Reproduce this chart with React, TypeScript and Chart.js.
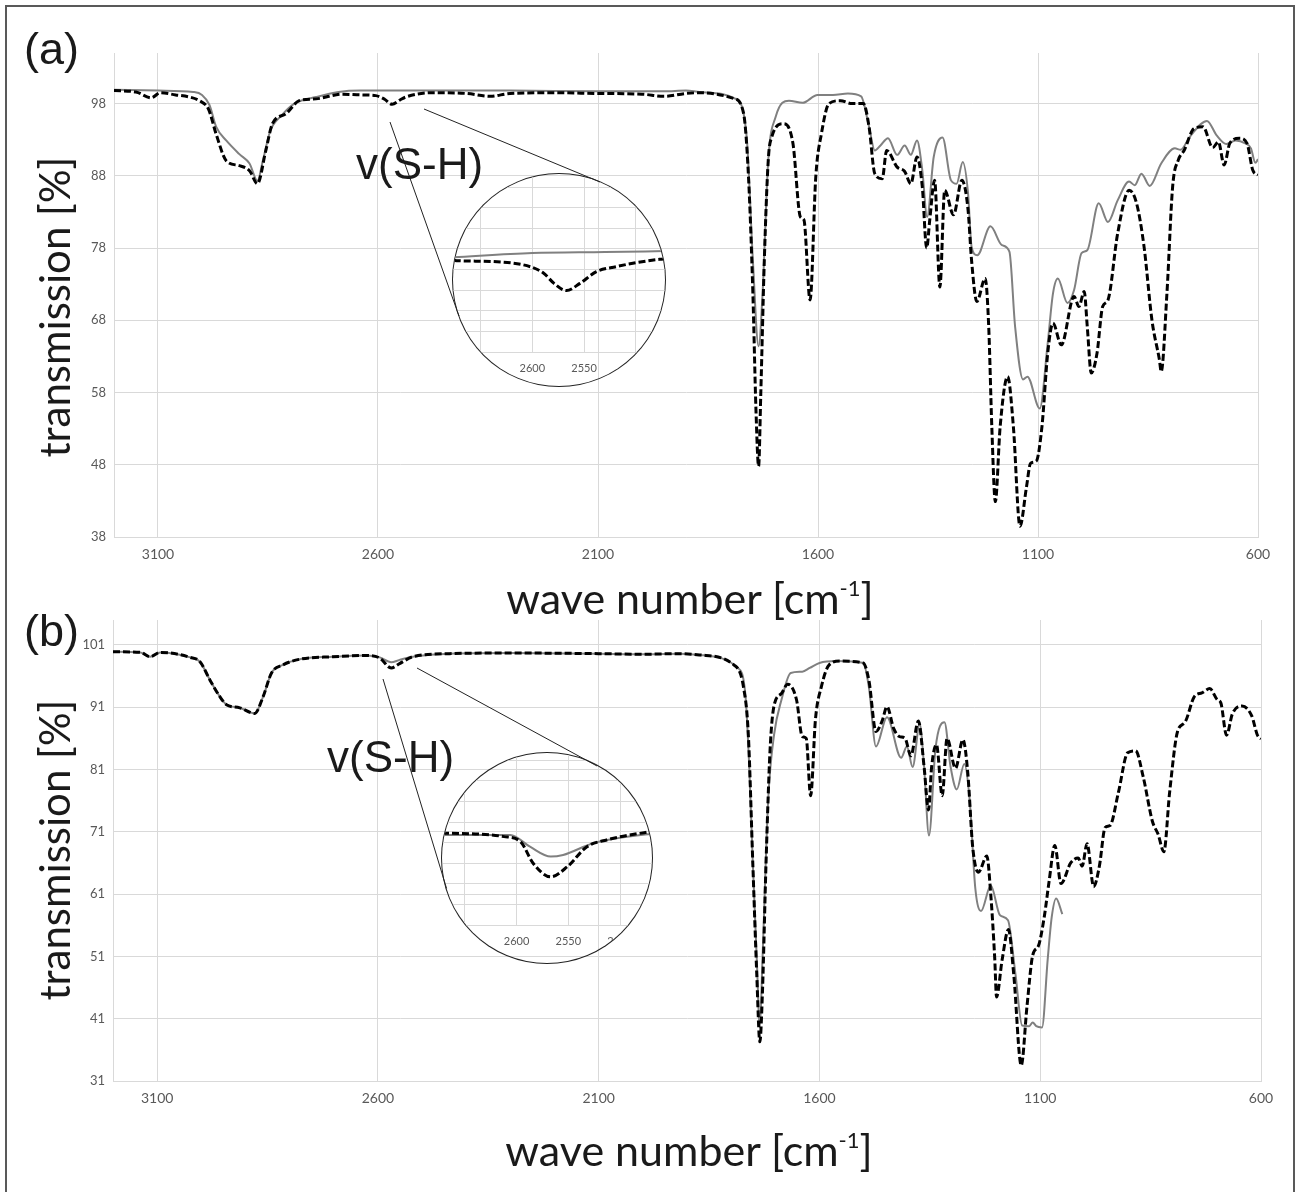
import React, { useEffect, useRef } from "react";
import { Chart, registerables } from "chart.js";

Chart.register(...registerables);

// ---------- Chart (a) ----------
const A_BLACK_WN = [3200, 3150, 3115, 3095, 3060, 3028, 3006, 2985, 2968, 2945, 2915, 2892, 2874, 2855, 2840, 2809, 2779, 2741, 2681, 2640, 2605, 2585, 2568, 2550, 2537, 2478, 2400, 2345, 2300, 2200, 2100, 2000, 1950, 1900, 1869, 1791, 1769, 1758, 1748, 1741, 1735, 1730, 1722, 1713, 1705, 1679, 1657, 1640, 1632, 1618, 1605, 1592, 1575, 1549, 1523, 1497, 1484, 1471, 1454, 1444, 1420, 1403, 1389, 1375, 1363, 1353, 1346, 1335, 1323, 1312, 1292, 1273, 1259, 1251, 1239, 1220, 1212, 1205, 1197, 1186, 1169, 1156, 1141, 1126, 1117, 1104, 1091, 1078, 1066, 1047, 1018, 1007, 995, 988, 979, 966, 953, 941, 919, 893, 876, 859, 841, 824, 820, 807, 794, 781, 768, 746, 725, 703, 690, 677, 664, 642, 625, 612, 600];
const A_BLACK_T = [99.8, 99.6, 98.8, 99.5, 99.2, 98.9, 98.4, 97.2, 93.8, 90.1, 89.4, 88.7, 86.9, 91.5, 95.2, 96.6, 98.4, 98.65, 99.3, 99.2, 99.1, 98.6, 97.9, 98.5, 98.9, 99.5, 99.4, 99.0, 99.4, 99.5, 99.4, 99.3, 99.0, 99.4, 99.5, 98.7, 96.6, 87.9, 71.7, 55.6, 47.8, 57.9, 76.3, 90.2, 93.4, 95.2, 92.5, 82.3, 81.9, 70.8, 87.9, 93.9, 98.0, 98.4, 98.0, 98.0, 94.8, 88.3, 87.6, 91.5, 89.2, 88.6, 86.9, 90.6, 86.5, 78.0, 81.9, 87.4, 72.6, 86.0, 82.6, 87.4, 83.3, 76.3, 70.6, 73.8, 67.1, 53.3, 42.9, 53.3, 60.2, 53.3, 39.5, 45.0, 48.2, 48.5, 53.3, 63.4, 67.6, 64.6, 71.3, 69.9, 72.0, 67.1, 60.7, 63.4, 69.9, 70.8, 80.0, 86.0, 84.2, 78.2, 68.0, 62.5, 60.9, 71.7, 86.5, 90.2, 91.5, 94.5, 94.8, 91.9, 92.7, 89.5, 92.5, 93.2, 92.5, 88.8, 88.1];

const A_GRAY_WN = [3200, 3100, 3020, 3000, 2983, 2968, 2945, 2915, 2892, 2874, 2862, 2845, 2820, 2790, 2741, 2690, 2640, 2500, 2300, 2100, 1950, 1900, 1869, 1782, 1769, 1761, 1748, 1735, 1726, 1713, 1696, 1666, 1635, 1601, 1566, 1532, 1502, 1484, 1471, 1458, 1441, 1420, 1403, 1389, 1375, 1363, 1352, 1337, 1317, 1298, 1285, 1271, 1259, 1251, 1238, 1208, 1182, 1165, 1152, 1134, 1124, 1096, 1078, 1066, 1055, 1033, 1018, 1001, 988, 962, 941, 919, 893, 880, 865, 846, 820, 789, 776, 755, 716, 694, 672, 651, 629, 616, 606, 600];
const A_GRAY_T = [99.9, 99.8, 99.6, 99.2, 97.8, 94.8, 92.9, 91.0, 89.7, 87.3, 90.0, 94.2, 96.3, 98.0, 98.9, 99.6, 99.8, 99.8, 99.8, 99.7, 99.7, 99.8, 99.6, 98.5, 96.6, 92.5, 76.3, 64.4, 71.7, 90.2, 96.2, 98.4, 98.1, 99.2, 99.2, 99.4, 99.0, 94.8, 91.5, 92.2, 93.2, 90.9, 92.2, 90.9, 92.9, 88.8, 82.3, 90.6, 93.3, 87.4, 86.9, 89.9, 85.6, 78.2, 77.0, 81.0, 78.4, 77.5, 67.1, 59.8, 60.2, 55.8, 64.8, 71.7, 73.8, 70.4, 72.2, 77.3, 77.7, 84.2, 81.6, 84.6, 87.2, 86.7, 88.3, 86.6, 89.7, 91.8, 91.6, 93.4, 95.6, 93.6, 92.4, 92.9, 92.5, 91.8, 89.8, 90.3];

const A_Y_TICKS = [38, 48, 58, 68, 78, 88, 98];

// inset (a)
const IA_BLACK_WN = [2676, 2672, 2634, 2602, 2589, 2579, 2567, 2554, 2538, 2519, 2499, 2477, 2471];
const IA_BLACK_T = [100.45, 100.43, 100.38, 100.14, 99.82, 99.33, 98.98, 99.33, 99.9, 100.14, 100.34, 100.5, 100.52];
const IA_GRAY_WN = [2676, 2600, 2530, 2471];
const IA_GRAY_T = [100.6, 100.8, 100.85, 100.9];

// ---------- Chart (b) ----------
const B_BLACK_WN = [3200, 3138, 3116, 3093, 3025, 3003, 2980, 2958, 2943, 2913, 2879, 2860, 2841, 2815, 2777, 2702, 2627, 2596, 2570, 2551, 2521, 2438, 2300, 2100, 2000, 1920, 1872, 1794, 1772, 1761, 1751, 1742, 1735, 1729, 1721, 1712, 1703, 1686, 1672, 1652, 1639, 1630, 1620, 1609, 1596, 1578, 1553, 1501, 1488, 1472, 1458, 1447, 1432, 1419, 1406, 1393, 1376, 1363, 1353, 1346, 1335, 1322, 1311, 1292, 1275, 1264, 1253, 1240, 1221, 1212, 1203, 1199, 1186, 1172, 1160, 1143, 1130, 1117, 1104, 1091, 1080, 1067, 1053, 1031, 1014, 1005, 994, 979, 966, 953, 942, 923, 902, 884, 867, 846, 833, 820, 807, 789, 772, 751, 734, 716, 699, 691, 678, 665, 643, 621, 608, 600];
const B_BLACK_T = [99.9, 99.8, 99.1, 99.8, 99.0, 98.3, 95.3, 92.7, 91.4, 90.9, 90.0, 92.7, 96.5, 97.8, 98.7, 99.1, 99.3, 98.9, 97.3, 98.0, 99.1, 99.6, 99.7, 99.6, 99.5, 99.6, 99.4, 97.8, 94.2, 86.5, 66.0, 48.1, 37.3, 45.5, 66.0, 84.0, 91.2, 93.2, 94.7, 92.2, 86.3, 86.0, 76.8, 89.1, 94.2, 97.8, 98.4, 98.1, 95.3, 87.1, 88.8, 91.1, 87.6, 86.3, 86.0, 83.2, 88.8, 81.4, 74.5, 81.4, 85.0, 76.8, 86.0, 81.2, 85.8, 80.4, 68.6, 64.5, 67.1, 60.9, 50.6, 44.5, 50.6, 55.3, 48.1, 33.5, 43.0, 51.2, 52.7, 57.3, 63.0, 68.8, 62.7, 66.0, 66.8, 65.5, 69.1, 62.2, 65.5, 71.7, 72.0, 77.3, 83.7, 84.0, 79.9, 72.7, 70.6, 67.8, 77.3, 87.1, 88.6, 92.7, 93.3, 94.0, 92.2, 91.7, 86.5, 89.9, 91.2, 89.6, 86.5, 85.9];

const B_GRAY_WN = [3200, 3138, 3116, 3093, 3025, 3003, 2980, 2958, 2943, 2913, 2879, 2860, 2841, 2815, 2777, 2702, 2627, 2596, 2570, 2551, 2521, 2438, 2300, 2100, 2000, 1920, 1872, 1785, 1768, 1759, 1751, 1742, 1735, 1729, 1716, 1703, 1686, 1665, 1639, 1622, 1600, 1561, 1501, 1488, 1472, 1447, 1415, 1402, 1389, 1373, 1363, 1352, 1337, 1317, 1303, 1289, 1272, 1260, 1247, 1234, 1212, 1191, 1173, 1156, 1141, 1125, 1117, 1109, 1096, 1083, 1074, 1064, 1050];
const B_GRAY_T = [99.9, 99.8, 99.1, 99.8, 99.0, 98.3, 95.3, 92.7, 91.4, 90.9, 90.0, 92.7, 96.5, 97.8, 98.7, 99.1, 99.3, 99.0, 98.2, 98.6, 99.1, 99.6, 99.7, 99.6, 99.5, 99.6, 99.4, 97.3, 93.2, 81.4, 66.0, 50.6, 39.6, 50.6, 76.3, 86.5, 92.2, 96.5, 96.7, 97.3, 98.1, 98.4, 98.1, 94.2, 84.7, 89.4, 82.9, 84.7, 81.4, 88.3, 81.4, 70.4, 84.5, 88.6, 81.4, 77.8, 81.9, 76.3, 61.9, 58.3, 62.4, 57.6, 56.8, 48.1, 39.9, 39.8, 40.4, 39.8, 39.6, 50.6, 57.3, 60.3, 57.8];

const B_Y_TICKS = [31, 41, 51, 61, 71, 81, 91, 101];

// inset (b)
const IB_BLACK_WN = [2672, 2668, 2612, 2596, 2584, 2567, 2551, 2532, 2513, 2471, 2468];
const IB_BLACK_T = [100.44, 100.45, 100.29, 100.04, 99.0, 98.34, 98.83, 99.8, 100.13, 100.53, 100.55];
const IB_GRAY_WN = [2672, 2668, 2606, 2587, 2567, 2555, 2526, 2471, 2468];
const IB_GRAY_T = [100.37, 100.37, 100.37, 99.8, 99.32, 99.4, 99.97, 100.42, 100.43];

const X_TICKS = [3100, 2600, 2100, 1600, 1100, 600];
const INSET_X_TICKS = [2650, 2600, 2550, 2500];
const INSET_Y_TICKS = [96, 97, 98, 99, 100, 101, 102, 103, 104];

const GRID = "#d9d9d9";
const LABEL = "#595959";
const GRAY_LINE = "#808080";

const pts = (wn: number[], t: number[]) => wn.map((x, i) => ({ x, y: t[i] }));

function datasets(bw: number[], bt: number[], gw: number[], gt: number[]) {
  return [
    {
      data: pts(bw, bt),
      borderColor: "#000000",
      borderWidth: 3,
      borderDash: [7, 3],
      pointRadius: 0,
      cubicInterpolationMode: "monotone" as const,
      fill: false,
    },
    {
      data: pts(gw, gt),
      borderColor: GRAY_LINE,
      borderWidth: 2,
      pointRadius: 0,
      cubicInterpolationMode: "monotone" as const,
      fill: false,
    },
  ];
}

type MainCfg = {
  bw: number[]; bt: number[]; gw: number[]; gt: number[];
  yMin: number; yMax: number; yTicks: number[];
  yWidth: number; padTop: number; padRight: number; xHeight: number; padBottom: number;
};

function MainChart(props: MainCfg & { width: number; height: number; left: number; top: number }) {
  const ref = useRef<HTMLCanvasElement | null>(null);
  useEffect(() => {
    if (!ref.current) return;
    const c = new Chart(ref.current, {
      type: "line",
      data: { datasets: datasets(props.bw, props.bt, props.gw, props.gt) as any },
      options: {
        animation: false,
        responsive: false,
        maintainAspectRatio: false,
        layout: { padding: { left: 0, right: props.padRight, top: props.padTop, bottom: props.padBottom } },
        plugins: { legend: { display: false }, tooltip: { enabled: false } },
        scales: {
          x: {
            type: "linear",
            reverse: true,
            min: 600,
            max: 3200,
            afterBuildTicks: (s: any) => { s.ticks = X_TICKS.map((v) => ({ value: v })); },
            afterFit: (s: any) => { s.height = props.xHeight; },
            grid: { color: GRID, lineWidth: 1, drawTicks: false },
            border: { color: GRID, width: 1 },
            ticks: { padding: 9, color: LABEL, font: { family: "Lato", size: 14 }, callback: (v: any) => String(v), maxRotation: 0, autoSkip: false },
          },
          y: {
            type: "linear",
            min: props.yMin,
            max: props.yMax,
            afterBuildTicks: (s: any) => { s.ticks = props.yTicks.map((v) => ({ value: v })); },
            afterFit: (s: any) => { s.width = props.yWidth; },
            grid: { color: GRID, lineWidth: 1, drawTicks: false },
            border: { color: GRID, width: 1 },
            ticks: { padding: 8, color: LABEL, font: { family: "Lato", size: 13 }, callback: (v: any) => String(v) },
          },
        },
      } as any,
    });
    return () => c.destroy();
  }, []);
  return (
    <canvas
      ref={ref}
      width={props.width}
      height={props.height}
      style={{ position: "absolute", left: props.left, top: props.top, width: props.width, height: props.height }}
    />
  );
}

type InsetCfg = {
  bw: number[]; bt: number[]; gw: number[]; gt: number[];
  xMin: number; xMax: number; yMax: number; cx: number; cy: number; r: number; chartH: number;
};

function Inset(p: InsetCfg) {
  const ref = useRef<HTMLCanvasElement | null>(null);
  const size = p.r * 2;
  useEffect(() => {
    if (!ref.current) return;
    const c = new Chart(ref.current, {
      type: "line",
      data: { datasets: datasets(p.bw, p.bt, p.gw, p.gt) as any },
      options: {
        animation: false,
        responsive: false,
        maintainAspectRatio: false,
        layout: { padding: 0 },
        plugins: { legend: { display: false }, tooltip: { enabled: false } },
        scales: {
          x: {
            type: "linear",
            reverse: true,
            min: p.xMin,
            max: p.xMax,
            afterBuildTicks: (s: any) => { s.ticks = INSET_X_TICKS.map((v) => ({ value: v })); },
            afterFit: (s: any) => { s.height = size - p.chartH; },
            grid: { color: GRID, lineWidth: 1, drawTicks: false },
            border: { color: GRID, width: 1 },
            ticks: { padding: 10, color: LABEL, font: { family: "Lato", size: 11 }, callback: (v: any) => String(v), maxRotation: 0, autoSkip: false },
          },
          y: {
            type: "linear",
            min: 96,
            max: p.yMax,
            afterBuildTicks: (s: any) => { s.ticks = INSET_Y_TICKS.map((v) => ({ value: v })); },
            afterFit: (s: any) => { s.width = 0; },
            grid: { color: GRID, lineWidth: 1, drawTicks: false },
            border: { display: false },
            ticks: { display: false },
          },
        },
      } as any,
    });
    return () => c.destroy();
  }, []);
  return (
    <div
      style={{
        position: "absolute",
        left: p.cx - p.r,
        top: p.cy - p.r,
        width: size,
        height: size,
        borderRadius: "50%",
        overflow: "hidden",
        boxShadow: "0 0 0 1px #222",
      }}
    >
      <canvas ref={ref} width={size} height={size} style={{ position: "absolute", left: 0, top: 0, width: size, height: size }} />
    </div>
  );
}

const txt = (extra: React.CSSProperties): React.CSSProperties => ({
  position: "absolute",
  whiteSpace: "nowrap",
  lineHeight: 1,
  color: "#1a1a1a",
  ...extra,
});

function XTitle({ cx, cy }: { cx: number; cy: number }) {
  return (
    <div style={txt({ left: cx, top: cy, transform: "translate(-50%,-50%)", fontFamily: "Lato", fontSize: 43 })}>
      wave number [cm<span style={{ fontSize: 22, position: "relative", top: -18 }}>-1</span>]
    </div>
  );
}

function YTitle({ cx, cy }: { cx: number; cy: number }) {
  return (
    <div style={txt({ left: cx, top: cy, transform: "translate(-50%,-50%) rotate(-90deg)", fontFamily: "Lato", fontSize: 42 })}>
      transmission [%]
    </div>
  );
}

export default function App() {
  return (
    <div style={{ position: "absolute", left: 0, top: 0, width: 1296, height: 1192, overflow: "hidden", background: "#fff" }}>
      <div style={{ position: "absolute", left: 5, top: 5, width: 1290, height: 1200, border: "2px solid #595959", boxSizing: "border-box" }} />

      <MainChart
        bw={A_BLACK_WN} bt={A_BLACK_T} gw={A_GRAY_WN} gt={A_GRAY_T}
        yMin={38} yMax={105} yTicks={A_Y_TICKS}
        yWidth={114} padTop={53} padRight={38} xHeight={40} padBottom={3}
        width={1296} height={580} left={0} top={0}
      />
      <MainChart
        bw={B_BLACK_WN} bt={B_BLACK_T} gw={B_GRAY_WN} gt={B_GRAY_T}
        yMin={31} yMax={105} yTicks={B_Y_TICKS}
        yWidth={113} padTop={40} padRight={35} xHeight={36} padBottom={3}
        width={1296} height={540} left={0} top={580}
      />

      <Inset bw={IA_BLACK_WN} bt={IA_BLACK_T} gw={IA_GRAY_WN} gt={IA_GRAY_T}
        xMin={2471.7} xMax={2676.7} yMax={104.64} cx={559} cy={280} r={106} chartH={178} />
      <Inset bw={IB_BLACK_WN} bt={IB_BLACK_T} gw={IB_GRAY_WN} gt={IB_GRAY_T}
        xMin={2469.2} xMax={2671.2} yMax={104.35} cx={547} cy={858} r={105} chartH={172} />

      <svg width={1296} height={1192} style={{ position: "absolute", left: 0, top: 0, pointerEvents: "none" }}>
        <line x1={390} y1={122} x2={459} y2={316} stroke="#222" strokeWidth={1} />
        <line x1={424} y1={109} x2={600} y2={182} stroke="#222" strokeWidth={1} />
        <line x1={383} y1={679} x2={446.6} y2={888.5} stroke="#222" strokeWidth={1} />
        <line x1={417} y1={668} x2={597} y2={766} stroke="#222" strokeWidth={1} />
      </svg>

      <div style={txt({ left: 24, top: 48, transform: "translateY(-50%)", fontFamily: "Liberation Sans", fontSize: 45 })}>(a)</div>
      <div style={txt({ left: 24, top: 630, transform: "translateY(-50%)", fontFamily: "Liberation Sans", fontSize: 45 })}>(b)</div>
      <div style={txt({ left: 356, top: 164, transform: "translateY(-50%)", fontFamily: "Liberation Sans", fontSize: 44 })}>v(S-H)</div>
      <div style={txt({ left: 327, top: 757, transform: "translateY(-50%)", fontFamily: "Liberation Sans", fontSize: 44 })}>v(S-H)</div>

      <YTitle cx={54} cy={307} />
      <YTitle cx={54} cy={850} />
      <XTitle cx={690} cy={597} />
      <XTitle cx={689} cy={1149} />
    </div>
  );
}
